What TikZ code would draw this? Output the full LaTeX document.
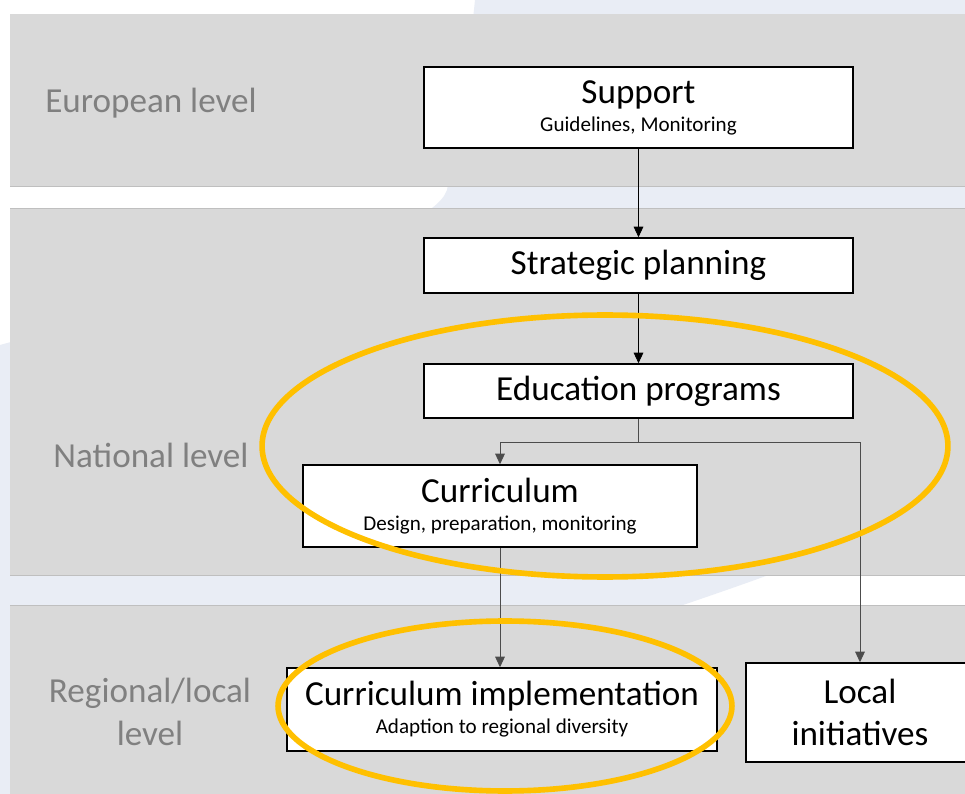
\documentclass[tikz,border=0pt]{standalone}
\usepackage{fontspec}
\setmainfont{Carlito}
\usetikzlibrary{arrows.meta}

\definecolor{bandgray}{HTML}{D9D9D9}
\definecolor{bandline}{HTML}{BFBFBF}
\definecolor{swoosh}{HTML}{E9EDF5}
\definecolor{levelgray}{HTML}{808080}
\definecolor{ringorange}{HTML}{FFC000}

\newcommand{\titlefont}{\fontsize{20}{24}\selectfont}
\newcommand{\notefont}{\fontsize{12}{14}\selectfont}

\tikzset{
  stage/.style={draw=black, fill=white, line width=0.9pt, align=center, inner sep=0pt, font=\titlefont},
  levellabel/.style={text=levelgray, align=center, font=\titlefont},
  flow/.style={-{Triangle[length=6pt,width=5.5pt]}, black, line width=0.5pt},
  branch/.style={draw=black!70, line width=0.5pt},
  ring/.style={draw=ringorange, line width=3.2pt}
}

\begin{document}
\begin{tikzpicture}[x=0.02cm,y=-0.02cm]
  \clip (0,0) rectangle (965,794);
  \fill[white] (0,0) rectangle (965,794);
  % light background swoosh
  \fill[swoosh] (475,0) -- (965,0) -- (965,470)
    .. controls (900,530) and (800,565) .. (683,605)
    .. controls (500,670) and (300,760) .. (230,794)
    -- (0,794) -- (0,345)
    .. controls (200,290) and (430,240) .. (447,190)
    .. controls (460,120) and (470,50) .. (475,0) -- cycle;

  % level bands
  \fill[bandgray] (10,14) rectangle (965,186);
  \fill[bandgray] (10,208) rectangle (965,575);
  \fill[bandgray] (10,605) rectangle (965,794);
  \draw[bandline] (10,186) -- (965,186);
  \draw[bandline] (10,208) -- (965,208);
  \draw[bandline] (10,575) -- (965,575);
  \draw[bandline] (10,605) -- (965,605);

  \node[levellabel] (european) at (151,103) {European level};
  \node[levellabel] (national) at (151,455) {National level};
  \node[levellabel] (regional) at (150,712) {Regional/local\\level};

  % stages
  \node[stage, minimum width=8.58cm, minimum height=1.62cm] (support) at (638.5,107.5)
    {Support\\[-8pt]{\notefont Guidelines, Monitoring}};
  \node[stage, minimum width=8.58cm, minimum height=1.1cm] (strategic) at (638.5,265.5) {Strategic planning};
  \node[stage, minimum width=8.58cm, minimum height=1.08cm] (programs) at (638.5,391) {Education programs};
  \node[stage, minimum width=7.88cm, minimum height=1.64cm] (curriculum) at (500,506)
    {Curriculum\\[-8pt]{\notefont Design, preparation, monitoring}};
  \node[stage, minimum width=8.6cm, minimum height=1.66cm] (implementation) at (502,709.5)
    {Curriculum implementation\\[-8pt]{\notefont Adaption to regional diversity}};
  \node[stage, minimum width=4.56cm, minimum height=1.98cm] (local) at (860,712.5)
    {Local\\initiatives};

  % connectors
  \draw[flow] (support) -- (strategic);
  \draw[flow] (strategic) -- (programs);
  \draw[branch] (programs.south) -- ++(0,24) coordinate (split);
  \draw[branch, flow, draw=black!70] (split) -| (curriculum.north);
  \draw[branch, flow, draw=black!70] (split) -| (local.north);
  \draw[branch, flow, draw=black!70] (curriculum.south) -- (curriculum.south |- implementation.north);

  % highlight rings
  \draw[ring] (605,446) ellipse [x radius=6.86cm, y radius=2.62cm];
  \draw[ring] (505,706) ellipse [x radius=4.54cm, y radius=1.7cm];
\end{tikzpicture}
\end{document}
